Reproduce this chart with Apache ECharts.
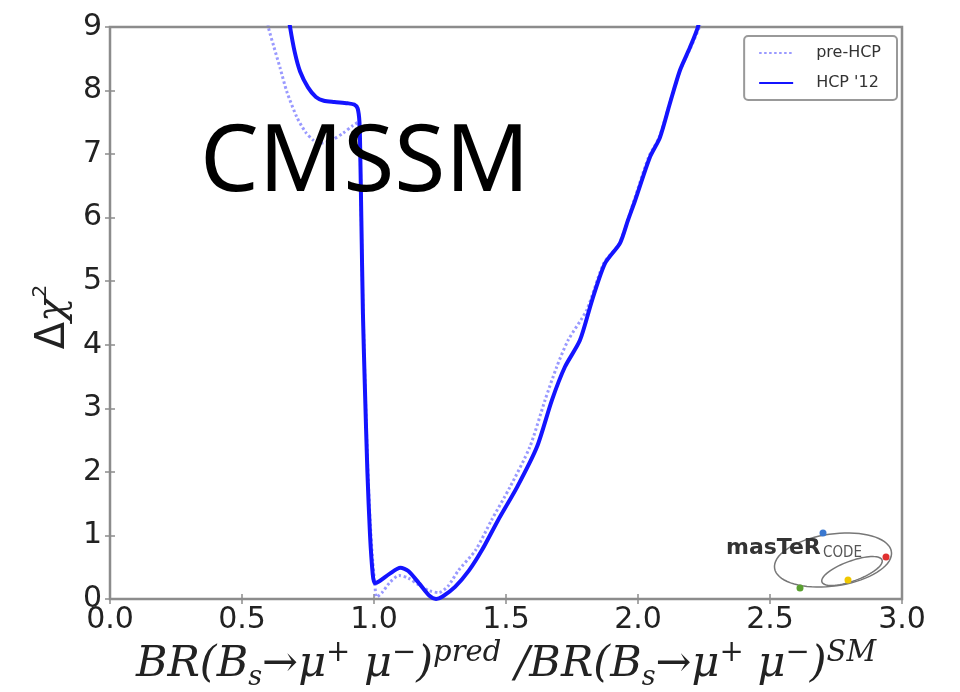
<!DOCTYPE html>
<html>
<head>
<meta charset="utf-8">
<script src="https://cdn.jsdelivr.net/npm/echarts@6/dist/echarts.min.js"></script>
<style>html,body{margin:0;padding:0;background:#fff}#c{width:960px;height:692px}</style>
</head>
<body>
<div id="c"></div>
<script>
// ---- data ----
const seriesNames = ['pre-HCP', "HCP '12"];
const preX = [0.58, 0.60, 0.62, 0.644, 0.67, 0.708, 0.74, 0.77, 0.795, 0.84, 0.883, 0.92, 0.94, 0.947, 0.951, 0.956, 0.962, 0.968, 0.976, 0.985, 0.995, 1.003, 1.01, 1.03, 1.06, 1.095, 1.13, 1.17, 1.21, 1.245, 1.28, 1.32, 1.385, 1.445, 1.515, 1.59, 1.648, 1.692, 1.735, 1.806, 1.87, 1.93, 1.985, 2.04, 2.08, 2.12, 2.16, 2.2, 2.242, 2.27];
const preY = [9.6, 9.0, 8.7, 8.36, 7.98, 7.58, 7.35, 7.22, 7.17, 7.22, 7.33, 7.45, 7.5, 7.1, 6.2, 5.0, 4.0, 3.1, 2.1, 1.25, 0.6, 0.25, 0.03, 0.1, 0.26, 0.37, 0.33, 0.22, 0.13, 0.1, 0.2, 0.45, 0.77, 1.24, 1.76, 2.39, 3.13, 3.65, 4.07, 4.55, 5.28, 5.6, 6.27, 6.95, 7.26, 7.8, 8.32, 8.68, 9.1, 9.5];
const hcpX = [0.66, 0.682, 0.70, 0.72, 0.75, 0.78, 0.81, 0.85, 0.90, 0.925, 0.938, 0.945, 0.948, 0.952, 0.958, 0.965, 0.975, 0.985, 0.995, 1.002, 1.02, 1.06, 1.1, 1.13, 1.17, 1.21, 1.235, 1.26, 1.307, 1.36, 1.409, 1.47, 1.542, 1.617, 1.674, 1.723, 1.78, 1.826, 1.875, 1.932, 1.962, 1.989, 2.045, 2.083, 2.121, 2.159, 2.197, 2.227, 2.25];
const hcpY = [9.6, 9.0, 8.6, 8.3, 8.05, 7.9, 7.84, 7.82, 7.8, 7.78, 7.72, 7.5, 7.0, 6.0, 4.5, 3.4, 2.0, 1.0, 0.4, 0.25, 0.28, 0.4, 0.49, 0.44, 0.25, 0.05, 0.0, 0.04, 0.19, 0.45, 0.77, 1.24, 1.76, 2.39, 3.13, 3.65, 4.07, 4.7, 5.28, 5.6, 5.96, 6.27, 6.95, 7.26, 7.8, 8.32, 8.68, 9.0, 9.4];
const xTickLabels = ['0.0', '0.5', '1.0', '1.5', '2.0', '2.5', '3.0'];
const yTickLabels = ['0', '1', '2', '3', '4', '5', '6', '7', '8', '9'];

const zip = (xs, ys) => xs.map((x, i) => [x, ys[i]]);

function ellipsePts(cx, cy, rx, ry, rot) {
  const pts = [];
  const c = Math.cos(rot), s = Math.sin(rot);
  for (let i = 0; i <= 72; i++) {
    const t = i / 72 * Math.PI * 2;
    const ex = rx * Math.cos(t), ey = ry * Math.sin(t);
    pts.push([cx + ex * c - ey * s, cy + ex * s + ey * c]);
  }
  return pts;
}

const chart = echarts.init(document.getElementById('c'), null, {renderer: 'canvas'});
const axisGray = '#8c8c8c';
const tickStyle = {show: true, inside: true, length: 5, lineStyle: {color: axisGray, width: 1.5}};
const labelStyle = {fontFamily: 'DejaVu Sans', fontSize: 30, color: '#222'};
const preColor = 'rgba(110,110,255,0.7)';
const hcpColor = '#1414ff';

chart.setOption({
  animation: false,
  backgroundColor: '#fff',
  grid: {left: 110, right: 58, top: 27, bottom: 93, show: true, borderColor: axisGray, borderWidth: 2.5, backgroundColor: 'transparent'},
  xAxis: [
    {type: 'value', min: 0, max: 3, interval: 0.5, position: 'bottom',
     axisLine: {show: false}, axisTick: tickStyle, splitLine: {show: false},
     axisLabel: Object.assign({margin: 6, formatter: v => xTickLabels[Math.round(v / 0.5)]}, labelStyle)},
    {type: 'value', min: 0, max: 3, interval: 0.5, position: 'top',
     axisLine: {show: false}, axisTick: tickStyle, splitLine: {show: false}, axisLabel: {show: false}}
  ],
  yAxis: [
    {type: 'value', min: 0, max: 9, interval: 1, position: 'left',
     axisLine: {show: false}, axisTick: tickStyle, splitLine: {show: false},
     axisLabel: Object.assign({margin: 8, formatter: v => yTickLabels[Math.round(v)]}, labelStyle)},
    {type: 'value', min: 0, max: 9, interval: 1, position: 'right',
     axisLine: {show: false}, axisTick: tickStyle, splitLine: {show: false}, axisLabel: {show: false}}
  ],
  legend: {
    orient: 'vertical', right: 63, top: 36,
    padding: [9, 16, 9, 14], itemWidth: 34, itemHeight: 12, itemGap: 14,
    borderColor: '#999', borderWidth: 2, borderRadius: 4, backgroundColor: '#fff',
    itemStyle: {opacity: 0},
    textStyle: {fontFamily: 'DejaVu Sans', fontSize: 16, color: '#333', padding: [0, 0, 0, 18]},
    data: seriesNames
  },
  series: [
    {name: seriesNames[0], type: 'line', data: zip(preX, preY), symbol: 'none', showSymbol: false,
     smooth: 0.25, clip: true, z: 2, itemStyle: {color: preColor},
     lineStyle: {color: preColor, width: 3, type: [2.5, 2.5]}},
    {name: seriesNames[1], type: 'line', data: zip(hcpX, hcpY), symbol: 'none', showSymbol: false,
     smooth: 0.25, clip: true, z: 3, itemStyle: {color: hcpColor},
     lineStyle: {color: hcpColor, width: 4}}
  ],
  graphic: [
    {type: 'text', left: 200, top: 118, z: 10,
     style: {text: 'CMSSM', font: '93px "Noto Sans"', fill: '#000'}},
    {type: 'text', x: 506, y: 665, z: 10,
     style: {
       text: '{i|BR(B}{sub|s}{i|→μ}{sup|+}{i| μ}{sup|−}{i|)}{sup|pred}{i| /BR(B}{sub|s}{i|→μ}{sup|+}{i| μ}{sup|−}{i|)}{sup|SM}',
       align: 'center', verticalAlign: 'middle',
       rich: {
         i: {fontFamily: '"DejaVu Serif"', fontStyle: 'italic', fontSize: 43, fill: '#222', lineHeight: 52, verticalAlign: 'middle'},
         sup: {fontFamily: '"DejaVu Serif"', fontStyle: 'italic', fontSize: 29, fill: '#222', verticalAlign: 'top', lineHeight: 52, padding: [0, 0, 14, 0]},
         sub: {fontFamily: '"DejaVu Serif"', fontStyle: 'italic', fontSize: 27, fill: '#222', verticalAlign: 'bottom', lineHeight: 52}
       }
     }},
    {type: 'text', x: 54, y: 317, rotation: Math.PI / 2, z: 10,
     style: {
       text: '{d|Δ}{c|χ}{s|2}', align: 'center', verticalAlign: 'middle',
       rich: {
         d: {fontFamily: 'DejaVu Sans', fontSize: 40, fill: '#222', lineHeight: 46, verticalAlign: 'middle'},
         c: {fontFamily: '"DejaVu Serif"', fontStyle: 'italic', fontSize: 40, fill: '#222', lineHeight: 46, verticalAlign: 'middle'},
         s: {fontFamily: 'DejaVu Sans', fontSize: 20, fill: '#222', lineHeight: 46, verticalAlign: 'top'}
       }
     }},
    // mastercode logo
    {type: 'polyline', z: 10, shape: {points: ellipsePts(833, 560, 59, 26, -0.14)}, style: {stroke: '#777', fill: 'none', lineWidth: 1.5}},
    {type: 'polyline', z: 10, shape: {points: ellipsePts(852, 571, 32, 10, -0.35)}, style: {stroke: '#777', fill: 'none', lineWidth: 1.5}},
    {type: 'text', x: 726, y: 548, z: 11,
     style: {text: 'masTeR', font: 'bold 22px "DejaVu Sans"', fill: '#333', verticalAlign: 'middle'}},
    {type: 'text', x: 823, y: 553, z: 11,
     style: {text: 'CODE', font: '15px "DejaVu Sans Condensed"', fill: '#555', verticalAlign: 'middle'}},
    {type: 'circle', z: 12, shape: {cx: 823, cy: 533, r: 3.5}, style: {fill: '#3a78d0'}},
    {type: 'circle', z: 12, shape: {cx: 886, cy: 557, r: 3.5}, style: {fill: '#e03030'}},
    {type: 'circle', z: 12, shape: {cx: 848, cy: 580, r: 3.5}, style: {fill: '#f0c800'}},
    {type: 'circle', z: 12, shape: {cx: 800, cy: 588, r: 3.5}, style: {fill: '#5aa030'}}
  ]
});
</script>
</body>
</html>
